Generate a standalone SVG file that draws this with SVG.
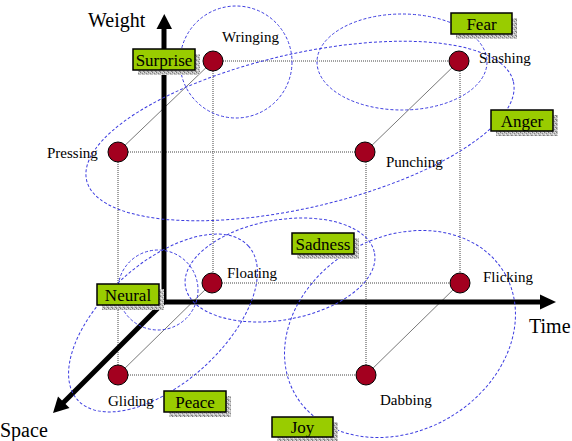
<svg xmlns="http://www.w3.org/2000/svg" width="572" height="441" viewBox="0 0 572 441">
  <style>
    .grid { stroke: #444; stroke-width: 1; stroke-dasharray: 1 1; fill: none; }
    .edge { stroke: #555; stroke-width: 0.8; fill: none; }
    .axis { stroke: #000; stroke-width: 5; fill: none; }
    .group { stroke: #3c3ce0; stroke-width: 1; stroke-dasharray: 3 2; fill: none; }
    .node { fill: #a3001f; stroke: #000; stroke-width: 1; }
    .lbl { font-family: "Liberation Serif", "Times New Roman", serif; font-size: 15px; fill: #000; }
    .axlbl { font-family: "Liberation Serif", "Times New Roman", serif; font-size: 20px; fill: #000; }
    .box { fill: #99cc00; stroke: #000; stroke-width: 1.5; }
    .shadow { fill: url(#speckle); }
    .emo { font-family: "Liberation Serif", "Times New Roman", serif; font-size: 17px; fill: #000; text-anchor: middle; }
  </style>
  <defs>
    <pattern id="speckle" width="4" height="4" patternUnits="userSpaceOnUse">
      <rect width="4" height="4" fill="#c4c4c4"/>
      <rect x="0" y="0" width="1" height="1" fill="#7a7a7a"/>
      <rect x="2" y="1" width="1" height="1" fill="#8a8a8a"/>
      <rect x="1" y="2" width="1" height="1" fill="#eeeeee"/>
      <rect x="3" y="3" width="1" height="1" fill="#808080"/>
      <rect x="3" y="0" width="1" height="1" fill="#e6e6e6"/>
      <rect x="0" y="3" width="1" height="1" fill="#9a9a9a"/>
    </pattern>
  </defs>

  <rect width="572" height="441" fill="#fff"/>

  <!-- cube edges and grid -->
  <g id="connectors">
    <line class="grid" x1="213" y1="61" x2="459" y2="61"/>
    <line class="grid" x1="118" y1="152" x2="365" y2="152"/>
    <line class="grid" x1="212" y1="283" x2="460" y2="283"/>
    <line class="grid" x1="118" y1="375" x2="366" y2="375"/>
    <line class="grid" x1="213" y1="61" x2="213" y2="283"/>
    <line class="grid" x1="460" y1="61" x2="460" y2="283"/>
    <line class="grid" x1="118" y1="152" x2="118" y2="375"/>
    <line class="grid" x1="366" y1="152" x2="366" y2="375"/>
    <line class="edge" x1="118" y1="152" x2="213" y2="61"/>
    <line class="edge" x1="365" y1="152" x2="459" y2="61"/>
    <line class="edge" x1="118" y1="375" x2="212" y2="283"/>
    <line class="edge" x1="366" y1="375" x2="460" y2="283"/>
  </g>

  <!-- axes -->
  <g id="axes">
    <line class="axis" x1="164" y1="304" x2="164" y2="28"/>
    <polygon points="156.5,29 172,29 164.3,14" fill="#000"/>
    <line class="axis" x1="162" y1="302" x2="541" y2="302"/>
    <polygon points="540,294.5 540,309.5 556,302" fill="#000"/>
    <line class="axis" x1="165" y1="301" x2="62" y2="404"/>
    <polygon points="53,413 58,396.5 69.5,408" fill="#000"/>
    <text class="axlbl" x="88" y="27">Weight</text>
    <text class="axlbl" x="529" y="333">Time</text>
    <text class="axlbl" x="0" y="437">Space</text>
  </g>

  <!-- emotion groupings -->
  <g id="groupings">
    <circle class="group" cx="236" cy="62" r="56"/>
    <ellipse class="group" cx="402" cy="62" rx="85" ry="48"/>
    <ellipse class="group" cx="300" cy="131" rx="219" ry="77" transform="rotate(-13 300 131)"/>
    <ellipse class="group" cx="280" cy="270" rx="96" ry="50" transform="rotate(-10 280 270)"/>
    <circle class="group" cx="158" cy="290" r="40"/>
    <ellipse class="group" cx="163" cy="323" rx="115" ry="60" transform="rotate(-42 163 323)"/>
    <ellipse class="group" cx="400" cy="334" rx="121" ry="97" transform="rotate(-30 400 334)"/>
  </g>

  <!-- effort actions -->
  <g id="wringing"><circle class="node" cx="213" cy="61" r="10"/><text class="lbl" x="222" y="42">Wringing</text></g>
  <g id="slashing"><circle class="node" cx="459" cy="61" r="10"/><text class="lbl" x="479" y="63">Slashing</text></g>
  <g id="pressing"><circle class="node" cx="118" cy="152" r="10"/><text class="lbl" x="47" y="158">Pressing</text></g>
  <g id="punching"><circle class="node" cx="365" cy="152" r="10"/><text class="lbl" x="386" y="167">Punching</text></g>
  <g id="floating"><circle class="node" cx="212" cy="283" r="10"/><text class="lbl" x="227" y="278">Floating</text></g>
  <g id="flicking"><circle class="node" cx="460" cy="283" r="10"/><text class="lbl" x="483" y="282">Flicking</text></g>
  <g id="gliding"><circle class="node" cx="118" cy="375" r="10"/><text class="lbl" x="108" y="406">Gliding</text></g>
  <g id="dabbing"><circle class="node" cx="366" cy="375" r="10"/><text class="lbl" x="380" y="405">Dabbing</text></g>

  <!-- emotion labels -->
  <g id="surprise"><rect class="shadow" x="138" y="54" width="62" height="21"/><rect class="box" x="133" y="49" width="62" height="21"/><text class="emo" x="164" y="66">Surprise</text></g>
  <g id="fear"><rect class="shadow" x="456" y="18" width="61" height="21"/><rect class="box" x="451" y="13" width="61" height="21"/><text class="emo" x="481.5" y="30">Fear</text></g>
  <g id="anger"><rect class="shadow" x="496" y="115" width="62" height="21"/><rect class="box" x="491" y="110" width="62" height="21"/><text class="emo" x="522" y="127">Anger</text></g>
  <g id="sadness"><rect class="shadow" x="297" y="238" width="62" height="21"/><rect class="box" x="292" y="233" width="62" height="21"/><text class="emo" x="323" y="250">Sadness</text></g>
  <g id="neural"><rect class="shadow" x="102" y="289" width="62" height="21"/><rect class="box" x="97" y="284" width="62" height="21"/><text class="emo" x="128" y="301">Neural</text></g>
  <g id="peace"><rect class="shadow" x="169" y="396" width="62" height="21"/><rect class="box" x="164" y="391" width="62" height="21"/><text class="emo" x="195" y="408">Peace</text></g>
  <g id="joy"><rect class="shadow" x="277" y="422" width="61" height="20"/><rect class="box" x="272" y="417" width="61" height="20"/><text class="emo" x="302.5" y="433">Joy</text></g>
</svg>
